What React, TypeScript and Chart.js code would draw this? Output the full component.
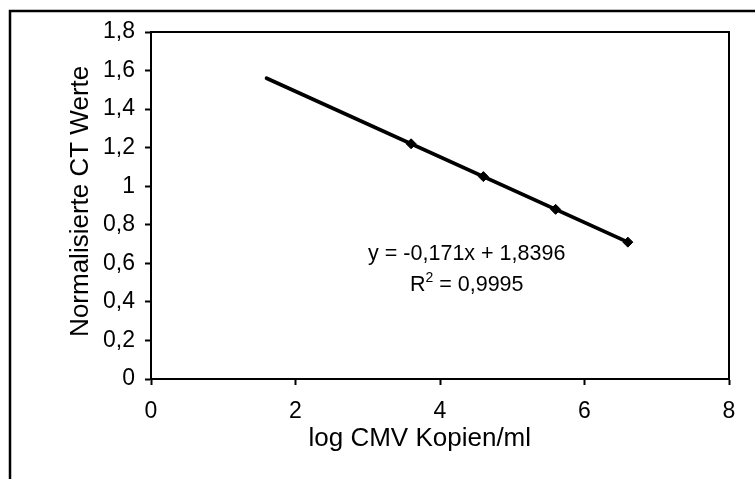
import React, { useEffect, useRef } from "react";
import { Chart, registerables } from "chart.js";

Chart.register(...registerables);

// ---- data ----
const pointX = [3.6, 4.6, 5.6, 6.6];
const pointY = [1.22, 1.05, 0.88, 0.71];
const trendX = [1.6, 6.6];
const trendY = [1.56, 0.71];
const xTicks = [0, 2, 4, 6, 8];
const xTickLabels = ["0", "2", "4", "6", "8"];
const yTicks = [0, 0.2, 0.4, 0.6, 0.8, 1.0, 1.2, 1.4, 1.6, 1.8];
const yTickLabels = ["0", "0,2", "0,4", "0,6", "0,8", "1", "1,2", "1,4", "1,6", "1,8"];
const xTitle = "log CMV Kopien/ml";
const yTitle = "Normalisierte CT Werte";
const equationText = "y = -0,171x + 1,8396";
const r2Value = " = 0,9995";
const equationPos = { x: 4.37, y: 0.648 };
const r2Pos = { x: 4.37, y: 0.488 };

const FONT = '"Liberation Sans", Arial, sans-serif';

const framePlugin = {
  id: "framePlugin",
  beforeDraw(chart: any) {
    const { ctx, width, height } = chart;
    ctx.save();
    ctx.fillStyle = "#ffffff";
    ctx.fillRect(0, 0, width, height);
    ctx.strokeStyle = "#000000";
    ctx.lineWidth = 2.5;
    ctx.strokeRect(10, 11, width + 50, height + 50);
    ctx.restore();
  },
  afterDraw(chart: any) {
    const { ctx, chartArea } = chart;
    const { left, top, right, bottom } = chartArea;
    ctx.save();
    ctx.strokeStyle = "#000000";
    ctx.lineWidth = 2;
    ctx.beginPath();
    ctx.moveTo(left, top);
    ctx.lineTo(right, top);
    ctx.lineTo(right, bottom);
    ctx.stroke();

    ctx.fillStyle = "#000000";
    ctx.textBaseline = "middle";

    // axis titles
    ctx.textAlign = "center";
    ctx.font = `26px ${FONT}`;
    ctx.fillText(xTitle, left + 0.465 * (right - left), bottom + 60);
    ctx.save();
    ctx.translate(81, top + 0.488 * (bottom - top));
    ctx.rotate(-Math.PI / 2);
    ctx.fillText(yTitle, 0, 0);
    ctx.restore();

    const xs = chart.scales.x;
    const ys = chart.scales.y;
    ctx.font = `21.5px ${FONT}`;
    ctx.textAlign = "center";
    ctx.fillText(equationText, xs.getPixelForValue(equationPos.x), ys.getPixelForValue(equationPos.y));

    // R² line
    const cx = xs.getPixelForValue(r2Pos.x);
    const cy = ys.getPixelForValue(r2Pos.y);
    ctx.textAlign = "left";
    ctx.font = `21.5px ${FONT}`;
    const wR = ctx.measureText("R").width;
    const wRest = ctx.measureText(r2Value).width;
    ctx.font = `14px ${FONT}`;
    const w2 = ctx.measureText("2").width;
    const total = wR + w2 + wRest;
    const x0 = cx - total / 2;
    ctx.font = `21.5px ${FONT}`;
    ctx.fillText("R", x0, cy);
    ctx.font = `14px ${FONT}`;
    ctx.fillText("2", x0 + wR, cy - 7);
    ctx.font = `21.5px ${FONT}`;
    ctx.fillText(r2Value, x0 + wR + w2, cy);
    ctx.restore();
  },
};

export default function App() {
  const canvasRef = useRef<HTMLCanvasElement | null>(null);

  useEffect(() => {
    const canvas = canvasRef.current;
    if (!canvas) return;
    const chart = new Chart(canvas, {
      type: "scatter",
      data: {
        datasets: [
          {
            label: "Punkte",
            data: pointX.map((x, i) => ({ x, y: pointY[i] })),
            pointStyle: "rectRot",
            pointRadius: 5,
            backgroundColor: "#000000",
            borderColor: "#000000",
            borderWidth: 1,
            showLine: false,
            order: 1,
          },
          {
            label: "Trend",
            data: trendX.map((x, i) => ({ x, y: trendY[i] })),
            showLine: true,
            borderColor: "#000000",
            borderWidth: 3.8,
            pointRadius: 0,
            borderCapStyle: "round",
            order: 2,
          },
        ],
      },
      options: {
        responsive: false,
        animation: false,
        devicePixelRatio: 1,
        layout: { padding: { left: 10, top: 32, right: 26, bottom: 0 } },
        plugins: {
          legend: { display: false },
          tooltip: { enabled: false },
        },
        scales: {
          x: {
            type: "linear",
            min: 0,
            max: 8,
            afterFit: (s: any) => {
              s.height = 100;
            },
            afterBuildTicks: (s: any) => {
              s.ticks = xTicks.map((v) => ({ value: v }));
            },
            ticks: {
              color: "#000000",
              font: { family: FONT, size: 23 },
              padding: 13,
              maxRotation: 0,
              callback: (_v: any, i: number) => xTickLabels[i],
            },
            grid: {
              drawOnChartArea: false,
              drawTicks: true,
              tickLength: 6,
              tickColor: "#000000",
              tickWidth: 2,
            },
            border: { display: true, color: "#000000", width: 2 },
            title: { display: false },
          },
          y: {
            type: "linear",
            min: 0,
            max: 1.8,
            afterFit: (s: any) => {
              s.width = 141;
            },
            afterBuildTicks: (s: any) => {
              s.ticks = yTicks.map((v) => ({ value: v }));
            },
            ticks: {
              color: "#000000",
              font: { family: FONT, size: 23 },
              padding: 10,
              callback: (_v: any, i: number) => yTickLabels[i],
            },
            grid: {
              drawOnChartArea: false,
              drawTicks: true,
              tickLength: 6,
              tickColor: "#000000",
              tickWidth: 2,
            },
            border: { display: true, color: "#000000", width: 2 },
            title: { display: false },
          },
        },
      },
      plugins: [framePlugin],
    } as any);
    return () => chart.destroy();
  }, []);

  return (
    <div style={{ position: "fixed", left: 0, top: 0, width: 755, height: 479, background: "#fff" }}>
      <canvas ref={canvasRef} width={755} height={479} style={{ width: 755, height: 479, display: "block" }} />
    </div>
  );
}
